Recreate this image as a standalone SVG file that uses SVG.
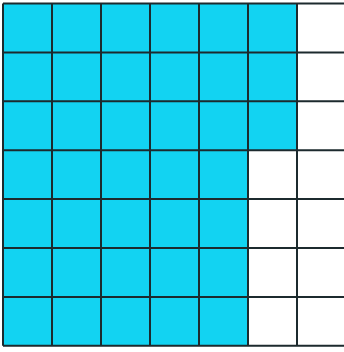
<svg xmlns="http://www.w3.org/2000/svg" width="344" height="352" viewBox="0 0 344 352">
<style>
.fill{fill:#12d3f2}
.grid{stroke:#1c2a2e;stroke-width:2;fill:none}
</style>
<rect width="344" height="352" fill="#ffffff"/>
<g id="shaded">
<rect class="fill" x="3" y="3.5" width="294" height="146.7"/>
<rect class="fill" x="3" y="150.2" width="245" height="195.6"/>
</g>
<g id="grid" class="grid">
<path d="M3 3.5V345.8M52 3.5V345.8M101 3.5V345.8M150 3.5V345.8M199 3.5V345.8M248 3.5V345.8M297 3.5V345.8"/>
<path d="M3 3.5H346M3 52.4H346M3 101.3H346M3 150.2H346M3 199.1H346M3 248H346M3 296.9H346M3 345.8H346"/>
</g>
</svg>
